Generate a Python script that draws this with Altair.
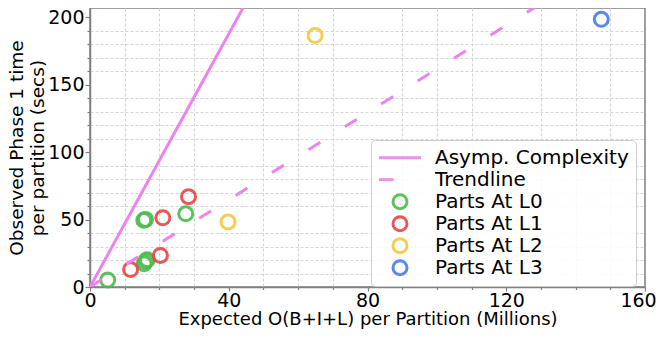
import altair as alt
import pandas as pd

# ---- data ----
series = ["Asymp. Complexity", "Trendline", "Parts At L0", "Parts At L1",
          "Parts At L2", "Parts At L3"]
colors = ["#ee82ee", "#ee82ee", "#4cbb4c", "#e84545", "#f7c741", "#4a7ce8"]
legend_shapes = ["M-3,0H3", "M-3,0H-0.9", "circle", "circle", "circle", "circle"]

l0_x = [5.1, 16.0, 15.5, 16.5, 15.6, 16.0, 27.6]
l0_y = [5.1, 50.1, 49.4, 20.2, 17.3, 19.0, 54.2]
l1_x = [11.7, 20.3, 21.0, 28.4]
l1_y = [12.9, 23.4, 51.3, 66.9]
l2_x = [39.8, 64.9]
l2_y = [48.2, 186.3]
l3_x = [147.4]
l3_y = [198.3]

asymp_x = [0, 44.8]
asymp_y = [0, 210]
trend_x = [0, 130]
trend_y = [0, 210]

x_major = [0, 40, 80, 120, 160]
y_major = [0, 50, 100, 150, 200]
x_minor = [v for v in range(0, 161, 10) if v % 40 != 0]
y_minor = [v for v in range(0, 201, 10) if v % 50 != 0]

FONT = "DejaVu Sans"

rows = []
for name, xs, ys in [("Parts At L0", l0_x, l0_y), ("Parts At L1", l1_x, l1_y),
                     ("Parts At L2", l2_x, l2_y), ("Parts At L3", l3_x, l3_y)]:
    for a, b in zip(xs, ys):
        rows.append({"x": a, "y": b, "series": name})
pts = pd.DataFrame(rows)

asymp = pd.DataFrame({"x": asymp_x, "y": asymp_y})
trend = pd.DataFrame({"x": trend_x, "y": trend_y})

xscale = alt.Scale(domain=[0, 160], nice=False, zero=False)
yscale = alt.Scale(domain=[0, 206.7], nice=False, zero=False)

x_major_axis = alt.Axis(values=x_major, orient="bottom", labelOverlap=False, labelFlush=False,
                        title="Expected O(B+I+L) per Partition (Millions)",
                        titleFontSize=18, tickSize=4, labelPadding=0, titlePadding=0,
                        labelOffset={"condition": {"test": "datum.value == 160", "value": -7},
                                     "value": 0},
                        gridColor="#cccccc", zindex=0)
y_major_axis = alt.Axis(values=y_major, orient="left", labelOverlap=False, labelFlush=False,
                        title=["Observed Phase 1 time", "per partition (secs)"],
                        titleFontSize=18.5, titleLineHeight=21,
                        tickSize=5, labelPadding=1, titlePadding=0,
                        gridColor="#cccccc", zindex=0)
x_minor_axis = alt.Axis(values=x_minor, orient="bottom", labels=False, title=None, domain=False,
                        tickSize=2.5, gridDash=[3, 2], gridColor="#d4d4d4", zindex=0)
y_minor_axis = alt.Axis(values=y_minor, orient="left", labels=False, title=None, domain=False,
                        tickSize=3, gridDash=[3, 2], gridColor="#d4d4d4", zindex=0)

leg = alt.Legend(title=None, orient="none", legendX=281, legendY=132,
                 labelFontSize=20, labelFont=FONT, labelColor="black",
                 symbolSize=196, symbolStrokeWidth=3, symbolOffset=12,
                 labelOffset=25, rowPadding=0, clipHeight=21.3, padding=7,
                 fillColor="rgba(255,255,255,0.85)", strokeColor="#cccccc",
                 cornerRadius=4, labelLimit=0)

minor_layer = alt.Chart(asymp).mark_line(color="#ee82ee", strokeWidth=3, clip=True).encode(
    x=alt.X("x:Q", scale=xscale, axis=x_minor_axis),
    y=alt.Y("y:Q", scale=yscale, axis=y_minor_axis))

points = alt.Chart(pts).mark_point(filled=False, size=196, strokeWidth=3, opacity=0.9).encode(
    x=alt.X("x:Q", scale=xscale, axis=x_major_axis),
    y=alt.Y("y:Q", scale=yscale, axis=y_major_axis),
    color=alt.Color("series:N", scale=alt.Scale(domain=series, range=colors), legend=leg),
    shape=alt.Shape("series:N", scale=alt.Scale(domain=series, range=legend_shapes), legend=leg),
)

trend_line = alt.Chart(trend).mark_line(color="#ee82ee", strokeWidth=3, strokeDash=[14, 29],
                                         clip=True).encode(
    x=alt.X("x:Q", scale=xscale, axis=None), y=alt.Y("y:Q", scale=yscale, axis=None))

chart = alt.layer(minor_layer, points, trend_line).resolve_axis(
    x="independent", y="independent"
).properties(
    width=555, height=279, autosize="none",
    padding={"left": 82, "top": 0, "right": 11, "bottom": 46},
).configure(font=FONT).configure_axis(
    labelFontSize=19, labelFont=FONT, labelColor="black",
    titleFont=FONT, titleFontWeight="normal", titleColor="black",
    domainColor="#808080", domainWidth=1.5, tickColor="#808080", tickWidth=1.2,
    gridWidth=1,
).configure_view(stroke="#808080", strokeWidth=1.5)

chart.save("out.html", embed_options={"renderer": "svg", "actions": False})
